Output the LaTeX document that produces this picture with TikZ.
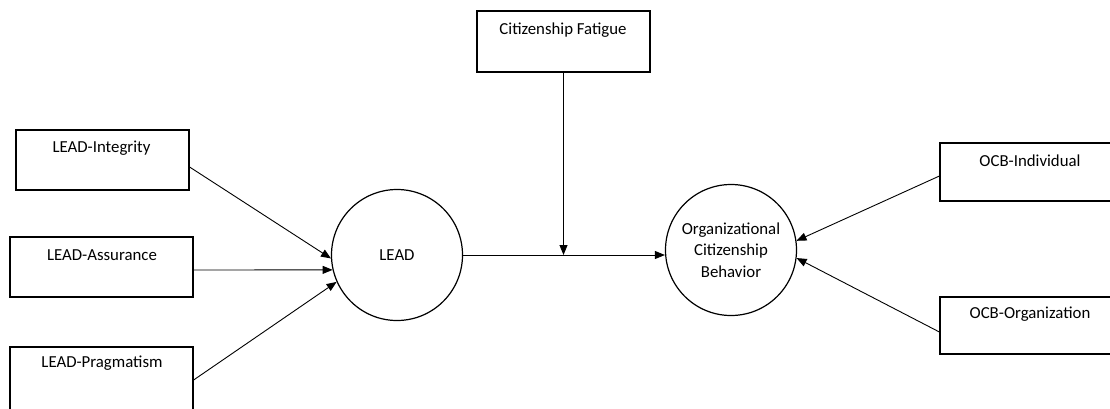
\documentclass[tikz,border=0pt]{standalone}
\usepackage{fontspec}
\setmainfont{Carlito}
\usetikzlibrary{arrows.meta,calc}
\begin{document}
\begin{tikzpicture}[x=1pt,y=-1pt,
  boxshape/.style={draw,line width=1.2pt,rectangle,inner sep=0pt},
  circshape/.style={draw,line width=1.2pt,circle,inner sep=0pt,minimum size=131pt,align=center},
  lbl/.style={inner sep=0pt,font=\fontsize{16.8}{20}\selectfont},
  arr/.style={line width=0.9pt,-{Triangle[length=10pt,width=8pt]}}]
\useasboundingbox (0,0) rectangle (1110,408);
\clip (0,0) rectangle (1110,408);
% boxes
\node[boxshape,minimum width=173pt,minimum height=60pt] (li) at (102.5,160) {};
\node[boxshape,minimum width=183pt,minimum height=60pt] (la) at (101.5,267) {};
\node[boxshape,minimum width=183pt,minimum height=70pt] (lp) at (101.5,382) {};
\node[boxshape,minimum width=173pt,minimum height=61pt] (cf) at (563.5,41.5) {};
\node[boxshape,minimum width=180pt,minimum height=58pt] (oi) at (1030,172) {};
\node[boxshape,minimum width=180pt,minimum height=57pt] (oo) at (1030,325.5) {};
% box texts
\node[lbl] (tli) at (101.5,148) {LEAD-Integrity};
\node[lbl] (tla) at (102,255) {LEAD-Assurance};
\node[lbl] (tlp) at (102,363) {LEAD-Pragmatism};
\node[lbl] (tcf) at (563,30) {Citizenship Fatigue};
\node[lbl] (toi) at (1030,161) {OCB-Individual};
\node[lbl] (too) at (1030,314) {OCB-Organization};
% circles
\node[circshape,font=\fontsize{16.8}{21.5}\selectfont] (lead) at (397,255) {LEAD};
\node[circshape,font=\fontsize{16.8}{21.5}\selectfont] (ocb) at (731,250) {Organizational\\Citizenship\\Behavior};
% connectors
\draw[arr] (li.east |- 0,167) -- (lead.183);
\draw[arr] (la.east |- 0,270) -- (lead.193);
\draw[arr] (lp.east |- 0,380) -- (lead.204);
\draw[arr] (lead.east) -- (lead.east -| ocb.west);
\coordinate (mid) at (cf.south |- lead.east);
\draw[arr] (cf.south) -- (mid);
\draw[arr] (oi.west |- 0,176) -- (ocb.8);
\draw[arr] (oo.west |- 0,332) -- (ocb.353);
\end{tikzpicture}
\end{document}
